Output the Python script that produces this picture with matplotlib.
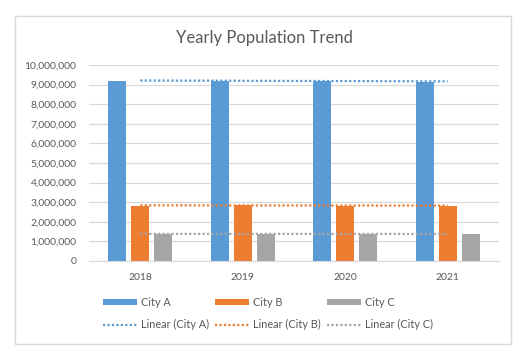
import numpy as np
import matplotlib
matplotlib.use("Agg")
import matplotlib.pyplot as plt
from matplotlib.patches import Rectangle, Patch
from matplotlib.lines import Line2D
from matplotlib.ticker import FuncFormatter

plt.rcParams['font.family'] = ['Lato', 'DejaVu Sans']

years = ["2018", "2019", "2020", "2021"]
city_a = [9200000, 9200000, 9200000, 9150000]
city_b = [2820000, 2870000, 2820000, 2820000]
city_c = [1380000, 1390000, 1380000, 1380000]
series_names = ["City A", "City B", "City C"]
colors = ["#5B9BD5", "#ED7D31", "#A5A5A5"]

text_col = "#595959"
grid_col = "#D9D9D9"

fig = plt.figure(figsize=(5.27, 3.6), dpi=100)
W, H = 527, 360
# chart border
fig.patches.append(Rectangle((15 / W, 1 - 343.5 / H), (510.5 - 15) / W, (343.5 - 16) / H,
                             transform=fig.transFigure, fill=False, edgecolor=grid_col, lw=1.0))

ax = fig.add_axes([89 / W, 1 - 261 / H, (499 - 89) / W, (261 - 65) / H])
x = np.arange(len(years))
bw = 0.175
step = 0.225
data = [city_a, city_b, city_c]
for i, (vals, c) in enumerate(zip(data, colors)):
    ax.bar(x + (i - 1) * step, vals, width=bw, color=c, zorder=2)

# linear trendlines
for vals, c in zip(data, colors):
    k, b = np.polyfit(x, vals, 1)
    ax.plot(x, k * x + b, color=c, lw=1.6, linestyle=(0, (1, 1)), zorder=3)

ax.set_xlim(-0.5, 3.5)
ax.set_ylim(0, 10000000)
ax.set_yticks(np.arange(0, 10000001, 1000000))
ax.yaxis.set_major_formatter(FuncFormatter(lambda v, p: f"{int(v):,}"))
ax.set_xticks(x)
ax.set_xticklabels(years)
ax.grid(axis='y', color=grid_col, lw=0.9, zorder=0)
for s in ["left", "right", "top"]:
    ax.spines[s].set_visible(False)
ax.spines["bottom"].set_color(grid_col)
ax.tick_params(axis='both', length=0, colors=text_col, labelsize=7.5)
ax.tick_params(axis='y', pad=9)
ax.tick_params(axis='x', pad=9)

fig.text(264 / W, 1 - 38 / H, "Yearly Population Trend", ha='center', va='center',
         fontsize=12, color=text_col)

handles = []
labels = []
for name, c in zip(series_names, colors):
    handles.append(Patch(facecolor=c, edgecolor='none'))
    labels.append(name)
    handles.append(Line2D([], [], color=c, lw=1.6, linestyle=(0, (1, 1))))
    labels.append(f"Linear ({name})")

leg = fig.legend(handles, labels, ncol=3, loc='center left',
                 bbox_to_anchor=(103 / W, 1 - 313.5 / H), frameon=False,
                 fontsize=7.8, labelcolor=text_col, handlelength=3.15,
                 handleheight=0.6, handletextpad=0.4, columnspacing=0.5,
                 labelspacing=1.05, borderaxespad=0, borderpad=0)

fig.savefig("out.png", dpi=100)
